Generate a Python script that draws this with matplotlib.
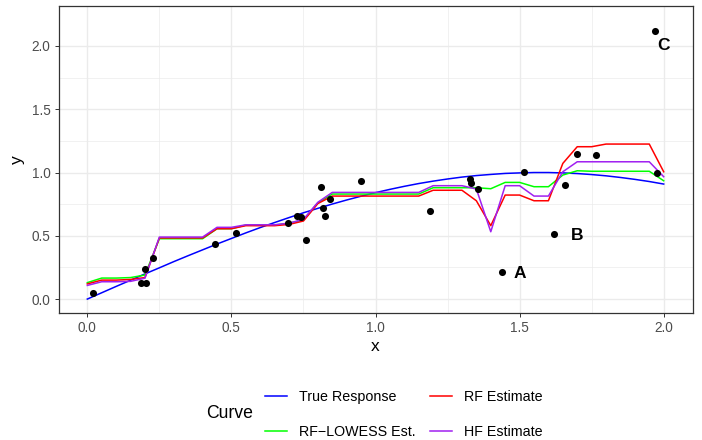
import numpy as np
import matplotlib
matplotlib.use("Agg")
import matplotlib.pyplot as plt
from matplotlib.lines import Line2D

plt.rcParams["font.family"] = ["Liberation Sans", "DejaVu Sans"]

# evaluation grid for the curves
x_grid = np.linspace(0, 2, 41)

true_response = [0.000, 0.050, 0.100, 0.149, 0.199, 0.247, 0.296, 0.343, 0.389, 0.435,
                 0.479, 0.523, 0.565, 0.605, 0.644, 0.682, 0.717, 0.751, 0.783, 0.813,
                 0.841, 0.867, 0.891, 0.913, 0.932, 0.949, 0.964, 0.976, 0.985, 0.993,
                 0.997, 1.000, 1.000, 0.997, 0.992, 0.984, 0.974, 0.961, 0.946, 0.929,
                 0.909]
rf_lowess = [0.13, 0.166, 0.166, 0.17, 0.19, 0.477, 0.477, 0.477, 0.477, 0.556,
             0.556, 0.585, 0.585, 0.585, 0.60, 0.625, 0.76, 0.83, 0.83, 0.83,
             0.83, 0.83, 0.83, 0.83, 0.88, 0.88, 0.88, 0.88, 0.872, 0.922,
             0.922, 0.888, 0.888, 0.98, 1.014, 1.01, 1.01, 1.01, 1.01, 1.01,
             0.935]
rf_est = [0.12, 0.15, 0.15, 0.155, 0.17, 0.483, 0.483, 0.483, 0.483, 0.556,
          0.556, 0.58, 0.58, 0.58, 0.59, 0.617, 0.755, 0.814, 0.814, 0.814,
          0.814, 0.814, 0.814, 0.814, 0.86, 0.86, 0.86, 0.777, 0.58, 0.822,
          0.822, 0.777, 0.777, 1.072, 1.204, 1.204, 1.225, 1.225, 1.225, 1.225,
          1.006]
hf_est = [0.108, 0.137, 0.137, 0.14, 0.165, 0.49, 0.49, 0.49, 0.49, 0.567,
          0.567, 0.587, 0.587, 0.587, 0.60, 0.63, 0.765, 0.843, 0.843, 0.843,
          0.843, 0.843, 0.843, 0.843, 0.896, 0.896, 0.896, 0.87, 0.532, 0.896,
          0.896, 0.814, 0.814, 1.006, 1.085, 1.085, 1.085, 1.085, 1.085, 1.085,
          0.967]

# observed points
obs_x = [0.02, 0.187, 0.204, 0.20, 0.228, 0.444, 0.515, 0.696, 0.729, 0.741,
         0.759, 0.81, 0.817, 0.824, 0.843, 0.949, 1.188, 1.327, 1.333, 1.356,
         1.44, 1.516, 1.619, 1.657, 1.698, 1.765, 1.97, 1.978]
obs_y = [0.05, 0.124, 0.124, 0.235, 0.324, 0.432, 0.524, 0.598, 0.66, 0.646,
         0.464, 0.888, 0.717, 0.656, 0.79, 0.93, 0.698, 0.946, 0.92, 0.866,
         0.213, 1.004, 0.511, 0.904, 1.144, 1.138, 2.116, 1.0]

# outlier labels
lab_text = ["A", "B", "C"]
lab_x = [1.50, 1.70, 2.00]
lab_y = [0.20, 0.50, 2.00]

curves = [
    ("True Response", true_response, "#0000FF"),
    ("RF\u2212LOWESS Est.", rf_lowess, "#00FF00"),
    ("RF Estimate", rf_est, "#FF0000"),
    ("HF Estimate", hf_est, "#A020F0"),
]

fig = plt.figure(figsize=(7.02, 4.40), dpi=100)
ax = fig.add_axes([58.5 / 702, 1 - 313 / 440, 634 / 702, 307 / 440])

for label, ys, color in curves:
    ax.plot(x_grid, ys, color=color, lw=1.1, zorder=3)

ax.scatter(obs_x, obs_y, s=26, color="black", zorder=4, linewidths=0)

for t, lx, ly in zip(lab_text, lab_x, lab_y):
    ax.text(lx, ly, t, ha="center", va="center", fontsize=12.5,
            fontweight="bold", color="black", zorder=5)

ax.set_xlim(-0.1, 2.1)
ax.set_ylim(-0.11, 2.316)
ax.set_xticks([0, 0.5, 1.0, 1.5, 2.0])
ax.set_xticklabels(["0.0", "0.5", "1.0", "1.5", "2.0"])
ax.set_yticks([0, 0.5, 1.0, 1.5, 2.0])
ax.set_yticklabels(["0.0", "0.5", "1.0", "1.5", "2.0"])
ax.set_xticks([0.25, 0.75, 1.25, 1.75], minor=True)
ax.set_yticks([0.25, 0.75, 1.25, 1.75], minor=True)
ax.grid(which="major", color="#EBEBEB", lw=1.0, zorder=0)
ax.grid(which="minor", color="#EBEBEB", lw=0.5, zorder=0)
ax.set_axisbelow(True)
ax.tick_params(which="major", length=3.2, width=0.7, color="#333333",
               labelsize=9.8, labelcolor="#4D4D4D", pad=2.5)
ax.tick_params(which="minor", length=0)
for sp in ax.spines.values():
    sp.set_color("#333333")
    sp.set_linewidth(0.9)

ax.set_xlabel("x", fontsize=12.5, labelpad=3)
ax.set_ylabel("y", fontsize=12.5, labelpad=5)

handles = [Line2D([], [], color=c, lw=1.1) for _, _, c in curves]
labels = [l for l, _, _ in curves]
fig.legend(handles, labels, ncol=2, loc="upper left",
           bbox_to_anchor=(265 / 702, 1 - 390 / 440), frameon=False,
           fontsize=10.3, handlelength=1.55, handletextpad=0.85,
           columnspacing=0.95, labelspacing=1.5, borderpad=0,
           borderaxespad=0)
fig.text(206 / 702, 1 - 413 / 440, "Curve", fontsize=12.7, ha="left",
         va="center")

fig.savefig("out.png", dpi=100)
